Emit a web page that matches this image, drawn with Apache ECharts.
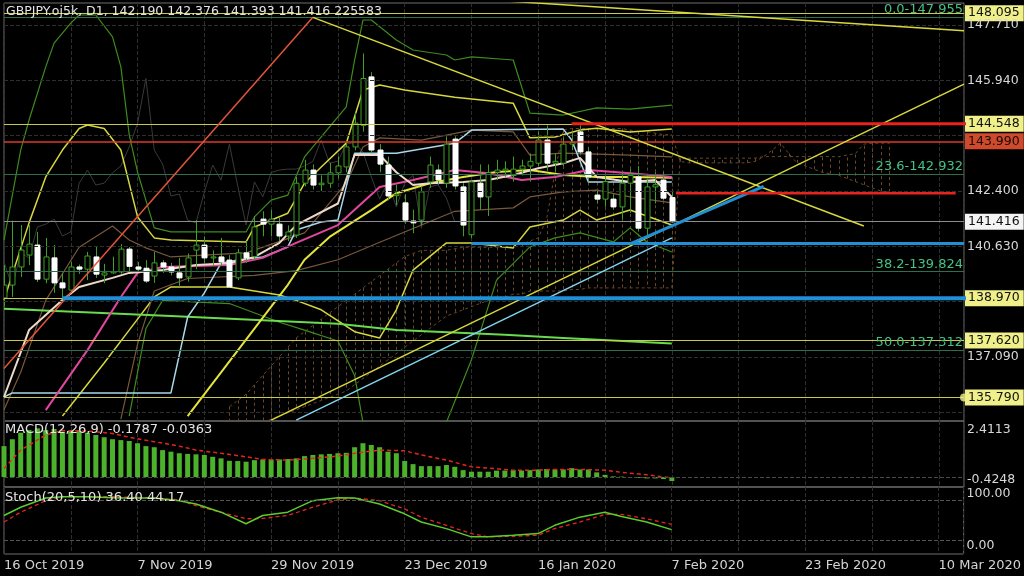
<!DOCTYPE html>
<html><head><meta charset="utf-8">
<script src="https://cdn.jsdelivr.net/npm/echarts@6/dist/echarts.min.js"></script>
<style>html,body{margin:0;padding:0;background:#000}#c{width:1024px;height:576px}</style>
</head><body><div id="c"></div>
<script>
// ---------------- DATA ----------------
const symbol = 'GBPJPY.oj5k', timeframe = 'D1';
const lastOHLC = [142.190, 142.376, 141.393, 141.416];
const lastVolume = 225583;

const tickIdx = [0, 16, 32, 48, 64, 80, 96, 112];
const tickDates = ['16 Oct 2019','7 Nov 2019','29 Nov 2019','23 Dec 2019','16 Jan 2020','7 Feb 2020','23 Feb 2020','10 Mar 2020'];

// open, close, low, high
const candles = [
[138.98,139.39,138.70,140.03],[139.39,139.97,139.01,141.45],[139.97,140.51,139.65,141.31],[140.35,140.70,140.03,141.31],
[140.67,139.58,139.49,141.09],[139.58,140.29,139.45,140.90],[140.26,139.46,139.14,140.67],[139.46,139.30,138.98,139.78],
[139.23,139.97,139.14,140.13],[139.97,139.90,139.75,140.05],[139.90,140.32,139.55,140.45],[140.29,139.74,139.62,140.61],
[139.71,139.78,139.45,140.07],[139.78,139.82,139.75,140.30],[139.81,140.54,139.75,140.70],[140.54,139.99,139.81,140.61],
[139.97,139.90,139.81,140.13],[139.93,139.52,139.46,140.19],[139.68,140.10,139.46,140.45],[140.10,139.97,139.78,140.19],
[139.97,139.81,139.70,140.10],[139.78,139.62,139.33,140.26],[139.65,140.26,139.50,140.40],[140.51,140.67,139.90,141.47],
[140.67,140.26,140.10,140.95],[140.26,140.29,140.00,140.50],[140.29,140.13,140.00,140.90],[140.19,139.33,139.30,140.35],
[139.62,140.42,139.55,140.55],[140.42,140.26,140.10,140.80],[140.30,141.25,140.20,141.60],[141.50,141.34,140.95,141.75],
[141.34,141.50,140.95,141.80],[141.34,140.96,140.80,141.55],[140.96,141.09,140.80,141.30],[140.99,142.65,140.90,142.85],
[142.65,143.07,142.55,143.40],[143.07,142.59,142.45,143.25],[142.60,142.65,142.40,142.90],[142.65,142.98,142.50,143.30],
[142.98,143.20,142.80,143.50],[143.17,143.81,143.00,144.03],[143.81,144.57,143.70,144.90],[144.50,146.00,144.30,146.80],
[146.05,143.71,143.60,146.20],[143.71,143.26,143.00,143.90],[143.23,142.24,142.10,143.50],[142.25,142.30,141.95,142.60],
[142.02,141.47,141.35,142.30],[141.44,141.38,141.05,141.80],[141.47,142.37,141.30,142.55],[142.69,143.23,142.50,143.50],
[143.07,142.75,142.60,143.25],[142.65,143.90,142.50,144.15],[144.06,142.56,142.45,144.15],[142.53,141.31,140.95,142.65],
[141.00,142.69,140.90,142.75],[142.65,142.21,141.80,143.25],[142.21,142.99,141.60,143.25],[143.00,143.07,142.75,143.40],
[143.05,143.10,142.85,143.35],[142.90,143.10,142.70,143.50],[143.10,143.20,142.90,143.40],[143.20,143.35,142.70,143.60],
[143.29,144.03,143.20,144.30],[144.03,143.29,143.05,144.50],[143.29,143.35,143.00,143.60],[143.29,143.90,143.20,144.10],
[143.90,143.95,143.70,144.30],[144.29,143.65,143.60,144.50],[143.65,142.85,142.70,143.80],[142.27,142.14,142.00,142.40],
[142.14,142.70,141.90,142.90],[142.14,141.89,141.80,142.30],[141.89,142.65,141.50,143.00],[142.65,142.90,141.70,143.10],
[142.85,141.21,141.10,143.20],[141.21,142.53,140.95,142.80],[142.53,142.60,142.00,143.00],[142.75,142.17,142.10,143.00],
[142.19,141.416,141.393,142.376]
];

// indicator lines: [barIndex, price]
const bbUp3 = [[0,140.83],[2,143.71],[3,144.67],[5,146.37],[6,147.13],[8,147.77],[9,148.03],[11,148.03],[13,147.33],[14,146.37],[15,144.2],[16,143.0],[17,142.11],[18,141.22],[20,141.09],[29,141.09],[30,141.57],[32,142.11],[34,142.27],[36,143.49],[38,144.13],[41,145.09],[42,146.59],[43,147.87],[44,147.87],[47,147.23],[49,146.91],[53,146.75],[54,146.59],[56,146.69],[61,146.59],[63,144.89],[67,144.83],[71,145.06],[75,145.02],[80,145.15]];
const bbUp2 = [[0,138.91],[3,141.38],[5,142.85],[7,143.71],[9,144.40],[10,144.51],[12,144.40],[14,143.71],[16,141.57],[18,140.90],[20,140.83],[29,140.77],[30,141.25],[34,141.69],[36,142.65],[38,143.17],[41,143.93],[43,145.63],[45,145.79],[48,145.63],[54,145.40],[61,145.21],[63,144.10],[66,144.13],[69,144.35],[71,144.41],[75,144.29],[80,144.38]];
const bbUp1 = [[0,135.4],[2,136.6],[5,138.9],[9,140.6],[13,141.28],[15,140.83],[17,140.58],[20,140.29],[29,140.42],[36,141.06],[41,142.65],[43,143.81],[45,144.10],[50,144.03],[56,144.35],[61,144.29],[63,143.55],[67,143.61],[75,143.55],[80,143.49]];
const bbLo1 = [[14,135.1],[16,137.5],[18,139.2],[22,139.6],[30,139.7],[35,139.85],[40,140.2],[44,140.65],[49,141.2],[54,141.75],[61,141.86],[63,142.21],[67,142.37],[71,142.43],[75,142.21],[80,142.02]];
const bbLo2 = [[7,135.2],[12,136.9],[16,138.3],[18,139.01],[20,139.33],[27,139.33],[33,139.07],[35,138.9],[38,138.6],[42,137.9],[45,137.7],[47,138.6],[49,139.87],[53,140.74],[56,140.74],[61,140.58],[63,141.25],[67,141.47],[69,141.79],[71,141.47],[75,141.79],[80,141.31]];
const bbLo3 = [[15,135.2],[17,138.0],[19,138.9],[27,138.8],[33,138.2],[36,137.95],[40,137.6],[42,136.5],[43,135.0],[53,135.0],[56,137.0],[59,139.55],[63,140.61],[66,140.9],[69,141.06],[73,140.77],[75,141.22],[77,140.77],[80,140.45]];
const maSlow = [[22,135.2],[26,136.6],[30,138.0],[34,139.4],[36,140.2],[39,140.93],[44,141.79],[47,142.33],[51,142.65],[55,142.85],[59,143.01],[63,143.07],[67,142.91],[71,142.85],[75,142.85],[80,142.82]];
const maPink = [[5,135.39],[10,137.31],[14,139.01],[16,139.78],[19,139.97],[27,140.03],[31,140.26],[35,140.74],[40,141.31],[45,142.53],[49,142.75],[54,143.07],[58,142.97],[62,142.75],[66,142.85],[70,143.07],[75,142.97],[80,142.85]];
const maCream = [[0,135.81],[3,137.95],[7,138.91],[9,139.33],[13,139.62],[15,139.78],[19,139.87],[23,140.03],[27,140.09],[30,140.29],[33,140.74],[35,141.31],[40,142.0],[42,143.55],[45,143.55],[47,143.0],[49,142.59],[51,142.65],[55,142.69],[58,142.75],[61,142.91],[64,143.13],[67,143.29],[69,143.46],[71,142.85],[75,142.69],[78,142.75],[80,142.21]];
const kijun = [[0,135.81],[1,135.94],[20,135.94],[22,138.37],[24,139.14],[26,140.09],[28,140.19],[31,140.29],[34,140.61],[35,141.15],[38,141.41],[40,141.47],[42,143.61],[47,143.61],[54,143.93],[56,144.35],[67,144.38],[68,144.03],[70,142.69],[80,142.69]];
const ma200 = [[0,138.63],[20,138.40],[40,138.15],[47,137.95],[60,137.80],[67,137.70],[80,137.52]];

// cloud spans, bar 27 .. 106
const cloudStart = 27;
const spanA = [135.5,135.7,135.9,136.2,136.5,136.8,137.1,137.4,137.7,137.9,
138.1,138.3,138.5,138.7,138.9,139.1,139.3,139.5,139.7,139.9,
140.1,140.3,140.4,140.5,140.5,140.5,140.5,140.55,140.6,140.6,
140.6,140.6,140.6,140.6,140.65,140.7,140.8,140.9,141.5,143.0,
144.35,144.4,144.4,144.4,144.4,144.4,144.4,144.4,144.35,144.3,
144.3,144.25,144.2,144.2,143.35,143.3,143.3,143.3,143.3,143.3,
143.3,143.3,143.3,143.35,143.5,143.7,143.93,143.6,143.3,143.2,
143.1,143.0,142.95,142.9,142.8,142.7,142.6,142.5,142.4,142.37];
const spanB = [134.6,134.7,134.8,134.9,135.0,135.1,135.2,135.3,135.4,135.5,
135.6,135.7,135.8,135.9,136.0,136.2,136.4,136.6,136.8,137.0,
137.2,137.4,137.6,137.8,138.0,138.2,138.4,138.5,138.6,138.7,
138.8,138.9,139.0,139.0,139.1,139.1,139.2,139.2,139.2,139.2,
139.2,139.25,139.25,139.3,139.3,139.3,139.3,139.3,139.3,139.3,
139.3,139.3,139.3,139.3,143.45,143.45,143.45,143.45,143.45,143.45,
143.45,143.45,143.45,143.45,143.5,143.5,143.5,143.5,143.5,143.5,
143.5,143.5,143.5,143.5,143.55,143.6,143.9,143.93,143.93,143.93];

// drawn objects: [barIndex, price]
const redDiag = [[0,136.72],[37,147.955]];
const yellowDown = [[37,147.955],[103,141.28]];
const yellowUp = [[32,135.07],[115,145.82]];
const yellowTop = [[60,148.48],[115,147.53]];
const cyanUp = [[35,135.07],[80,140.90]];
const blueUp = [[75,140.71],[91,142.55]];
const redHigh = [[68,144.548],[116.3,144.548]];
const redMid = [[80.5,142.33],[114,142.33]];
const blueMid = [[56,140.72],[115,140.72]];
const blueLow = [[7,138.97],[116.3,138.97]];

// horizontal levels
const gridPrices = [147.71,145.94,144.17,142.40,140.63,138.86,137.09,135.32];
const priceTicks = [147.710,145.940,142.400,140.630,137.090];
const yellowLevels = [148.095,144.548,138.970,137.620,135.790];
const redLevel = 143.990;
const lastPrice = 141.416;
const fibPct = ['0.0','23.6','38.2','50.0'];
const fibPrices = [147.955,142.932,139.824,137.312];

// MACD
const macdHist = [1.39,1.70,1.99,2.11,2.19,2.11,2.16,2.04,2.08,2.07,
1.99,1.89,1.79,1.70,1.66,1.62,1.52,1.39,1.34,1.21,
1.14,1.07,1.04,1.02,0.99,0.91,0.84,0.73,0.72,0.69,
0.76,0.79,0.79,0.79,0.81,0.84,0.94,0.99,1.02,1.04,
1.07,1.09,1.34,1.52,1.44,1.34,1.14,1.07,0.72,0.58,
0.49,0.49,0.49,0.54,0.46,0.31,0.24,0.24,0.24,0.29,
0.29,0.31,0.29,0.31,0.34,0.36,0.34,0.34,0.40,0.34,
0.34,0.21,0.10,0.03,0.02,-0.01,-0.04,-0.06,-0.06,-0.09,-0.1787];
const macdSignal = [[0,0.39],[2,1.21],[5,1.89],[7,2.09],[10,2.07],[13,1.96],[15,1.79],[18,1.59],[21,1.39],[23,1.21],[26,1.07],[29,0.91],[31,0.79],[34,0.76],[37,0.84],[40,0.94],[42,1.07],[45,1.21],[48,1.18],[50,0.99],[53,0.76],[56,0.46],[58,0.40],[61,0.31],[64,0.31],[66,0.34],[69,0.34],[72,0.31],[74,0.21],[77,0.10],[80,-0.0363]];
const macdParams = '12,26,9', macdLast = [-0.1787, -0.0363], macdScale = [2.4113, -0.4248];

// Stochastic
const stochMain = [[0,57.5],[2,69.8],[5,83.6],[7,85.5],[10,85.5],[13,84.1],[15,83.6],[18,83.6],[21,79.6],[23,74.7],[26,62.4],[29,45.2],[31,57.5],[34,62.4],[37,79.6],[40,84.1],[42,83.6],[45,74.7],[48,60],[50,47.7],[53,37.9],[56,25.6],[58,25.6],[61,28],[64,30.5],[66,42.8],[69,55],[72,62.4],[74,56],[77,47.7],[80,36.40]];
const stochSignal = [[0,47.7],[2,62.4],[5,79.6],[7,85.5],[13,85.5],[18,83.6],[21,80.6],[23,72.2],[26,62.4],[29,52.6],[31,53.1],[34,57.5],[37,69.8],[40,80.6],[42,83.6],[45,79.6],[48,67.3],[50,55],[53,42.8],[56,30.5],[58,25.6],[61,26.5],[64,28],[66,37.9],[69,47.7],[72,59],[74,59],[77,52.6],[80,44.17]];
const stochParams = '20,5,10', stochLevels = [80, 20], stochScale = ['100.00','0.00'];

// ---------------- CHART ----------------
const FONT = 'DejaVu Sans';
const P_MIN = 135.042, P_MAX = 148.414;
const GREEN = '#3fa024';
const HIDDEN = {color: 'rgba(0,0,0,0)', width: 1, type: 'solid'};
const chart = echarts.init(document.getElementById('c'));

function candleItem(params, api) {
  const i = api.value(0), o = api.value(1), c = api.value(2), l = api.value(3), h = api.value(4);
  const pO = api.coord([i, o]), pC = api.coord([i, c]), pL = api.coord([i, l]), pH = api.coord([i, h]);
  const x = Math.round(pO[0]) + 0.5;
  const bull = c >= o;
  const top = Math.min(pO[1], pC[1]);
  const hgt = Math.max(1, Math.abs(pO[1] - pC[1]));
  return {type: 'group', children: [
    {type: 'line', shape: {x1: x, y1: pH[1], x2: x, y2: pL[1]}, style: {stroke: GREEN, lineWidth: 1}},
    {type: 'rect', shape: {x: x - 2.5, y: top, width: 5, height: hgt},
     style: {fill: bull ? '#000' : '#fff', stroke: bull ? GREEN : '#fff', lineWidth: 1}}
  ]};
}
function hatchItem(params, api) {
  const i = api.value(0);
  const a = Math.max(api.value(1), P_MIN), b = Math.max(api.value(2), P_MIN);
  const p1 = api.coord([i, a]), p2 = api.coord([i, b]);
  const x = Math.round(p1[0]) + 0.5;
  return {type: 'line', shape: {x1: x, y1: p1[1], x2: x, y2: p2[1]},
          style: {stroke: '#6b4828', lineWidth: 1, lineDash: [3, 3]}};
}
function line(data, color, width, opts) {
  return Object.assign({type: 'line', data, xAxisIndex: 0, yAxisIndex: 0, symbol: 'none', silent: true,
    animation: false, z: 3, lineStyle: {color, width}}, opts || {});
}

const cloudData = spanA.map((a, k) => [cloudStart + k, a, spanB[k]]);
const spanALine = spanA.map((a, k) => [cloudStart + k, a]);
const spanBLine = spanB.map((b, k) => [cloudStart + k, b]);
const chikou = candles.slice(26).map((d, i) => [i, d[1]]);

const plainLabel = (txt, off) => ({show: true, position: 'end', distance: 3, formatter: txt, color: '#d8d8d8',
  fontSize: 12.5, fontFamily: FONT, offset: off || [0, 0]});
const boxLabel = (txt, bg, fg) => ({show: true, position: 'end', distance: 1, formatter: txt, color: fg, backgroundColor: bg,
  padding: [2, 4, 1, 3], fontSize: 12.5, fontFamily: FONT});

const mainMarks = [];
yellowLevels.forEach(v => mainMarks.push({yAxis: v, lineStyle: {color: '#c9c94a', width: 1, type: 'solid'},
  label: boxLabel(v.toFixed(3), '#f0f08a', '#111')}));
fibPrices.forEach((v, k) => mainMarks.push({yAxis: v, lineStyle: {color: '#2f6e4c', width: 1, type: 'solid'},
  label: {show: true, position: 'insideEndTop', distance: 1, formatter: fibPct[k] + '-' + v.toFixed(3),
          color: '#45c086', fontSize: 13, fontFamily: FONT}}));
mainMarks.push({yAxis: redLevel, lineStyle: {color: '#dd3a26', width: 1.5, type: 'solid'},
  label: boxLabel(redLevel.toFixed(3), '#cf4a2c', '#1a0a05')});
mainMarks.push({yAxis: lastPrice, lineStyle: {color: '#8c8c8c', width: 1, type: 'solid'},
  label: boxLabel(lastPrice.toFixed(3), '#f4f4f4', '#111')});
const tickMarks = priceTicks.map(v => ({yAxis: v, lineStyle: HIDDEN, label: plainLabel(v.toFixed(3))}));

const option = {
  backgroundColor: '#000',
  animation: false,
  textStyle: {fontFamily: FONT},
  title: [
    {text: symbol + ', ' + timeframe + ', ' + lastOHLC.map(v => v.toFixed(3)).join(' ') + ' ' + lastVolume,
     left: 6, top: 5, padding: 0, textStyle: {color: '#e4e4e4', fontSize: 12.5, fontWeight: 'normal', fontFamily: FONT}},
    {text: 'MACD(' + macdParams + ') ' + macdLast.map(v => v.toFixed(4)).join(' '),
     left: 5, top: 423, padding: 0, textStyle: {color: '#e4e4e4', fontSize: 13, fontWeight: 'normal', fontFamily: FONT}},
    {text: 'Stoch(' + stochParams + ') ' + stochMain[stochMain.length - 1][1].toFixed(2) + ' ' + stochSignal[stochSignal.length - 1][1].toFixed(2),
     left: 5, top: 491, padding: 0, textStyle: {color: '#e4e4e4', fontSize: 13, fontWeight: 'normal', fontFamily: FONT}}
  ],
  grid: [
    {left: 4, right: 60, top: 3, height: 418, show: true, borderColor: '#6e6e6e', borderWidth: 1},
    {left: 4, right: 60, top: 421, height: 66, show: true, borderColor: '#6e6e6e', borderWidth: 1},
    {left: 4, right: 60, top: 487, height: 67, show: true, borderColor: '#6e6e6e', borderWidth: 1}
  ],
  xAxis: [0, 1, 2].map(g => ({
    type: 'value', gridIndex: g, min: 0, max: 115, interval: 8,
    axisLine: {show: false}, axisTick: {show: false},
    splitLine: {show: true, lineStyle: {color: '#2e2e2e', type: 'dashed', width: 1}},
    axisLabel: g === 2 ? {show: true, color: '#d4d4d4', fontSize: 13, fontFamily: FONT, align: 'left', margin: 5,
      showMaxLabel: false,
      formatter: v => { const k = tickIdx.indexOf(v); return k >= 0 ? tickDates[k] : ''; }} : {show: false}
  })),
  yAxis: [
    {type: 'value', gridIndex: 0, min: P_MIN, max: P_MAX, show: false},
    {type: 'value', gridIndex: 1, min: -0.4473, max: 2.519, show: false},
    {type: 'value', gridIndex: 2, min: 0, max: 100, show: false}
  ],
  series: [
    // horizontal dashed grid
    {type: 'line', data: [], xAxisIndex: 0, yAxisIndex: 0, z: 0, silent: true,
     markLine: {symbol: 'none', silent: true, animation: false, label: {show: false},
       data: gridPrices.map(v => ({yAxis: v})), lineStyle: {color: '#2e2e2e', type: 'dashed', width: 1}}},
    // cloud
    {type: 'custom', xAxisIndex: 0, yAxisIndex: 0, data: cloudData, renderItem: hatchItem, clip: true, z: 1, silent: true,
     encode: {x: 0, y: [1, 2]}},
    line(spanALine, '#6b4828', 1, {z: 1, lineStyle: {color: '#6b4828', width: 1, type: [3, 3]}}),
    line(spanBLine, '#6b4828', 1, {z: 1, lineStyle: {color: '#6b4828', width: 1, type: [3, 3]}}),
    // indicators
    line(chikou, '#3a3a3a', 1),
    line(bbUp3, '#3e8c1e', 1.2), line(bbLo3, '#3e8c1e', 1.2),
    line(bbUp2, '#d6d63e', 1.5), line(bbLo2, '#d6d63e', 1.5),
    line(bbUp1, '#7a583a', 1.2), line(bbLo1, '#7a583a', 1.2),
    line(ma200, '#68dc4e', 2),
    line(kijun, '#a8d8ea', 1.5),
    line(maSlow, '#e4e43c', 2),
    line(maPink, '#e2479f', 2),
    line(maCream, '#eed8c8', 2),
    // candles
    {type: 'custom', xAxisIndex: 0, yAxisIndex: 0, data: candles.map((d, i) => [i, d[0], d[1], d[2], d[3]]),
     renderItem: candleItem, clip: true, z: 4, silent: true, encode: {x: 0, y: [1, 2, 3, 4]}},
    // drawn objects
    line(redDiag, '#e2553a', 1.5, {z: 5}),
    line(yellowDown, '#d8d83c', 1.5, {z: 5}),
    line(yellowUp, '#d8d83c', 1.5, {z: 5}),
    line(yellowTop, '#d8d83c', 1.5, {z: 5}),
    line(cyanUp, '#82d4ef', 1.5, {z: 5}),
    line(blueUp, '#1f8fd6', 3, {z: 5}),
    line(redMid, '#e8221c', 2.5, {z: 5}),
    line(blueMid, '#1f8fd6', 3, {z: 5}),
    line(redHigh, '#e8221c', 3, {z: 5, clip: false}),
    line(blueLow, '#1f8fd6', 4, {z: 5, clip: false}),
    // levels with labels
    {type: 'line', data: [], xAxisIndex: 0, yAxisIndex: 0, z: 8, silent: true,
     markLine: {symbol: 'none', silent: true, animation: false, data: mainMarks}},
    {type: 'line', data: [], xAxisIndex: 0, yAxisIndex: 0, z: 8, silent: true,
     markLine: {symbol: 'none', silent: true, animation: false, data: tickMarks}},
    {type: 'scatter', xAxisIndex: 0, yAxisIndex: 0, data: [[115, yellowLevels[4]]], symbolSize: 8, clip: false, z: 9,
     silent: true, itemStyle: {color: '#f0f08a'}},
    // MACD
    {type: 'bar', xAxisIndex: 1, yAxisIndex: 1, data: macdHist.map((v, i) => [i, v]), barWidth: 5,
     itemStyle: {color: '#4cb22b'}, silent: true, z: 3,
     markLine: {symbol: 'none', silent: true, animation: false, data: [
       {yAxis: 0, lineStyle: {color: '#4a4a4a', type: 'dashed', width: 1}, label: {show: false}},
       {yAxis: macdScale[0], lineStyle: HIDDEN, label: plainLabel(macdScale[0].toFixed(4), [0, 6])},
       {yAxis: macdScale[1], lineStyle: HIDDEN, label: plainLabel(macdScale[1].toFixed(4), [0, -7])}
     ]}},
    {type: 'line', xAxisIndex: 1, yAxisIndex: 1, data: macdSignal, symbol: 'none', silent: true, z: 4,
     lineStyle: {color: '#e5261e', width: 1.5, type: [4, 3]}},
    // Stochastic
    {type: 'line', xAxisIndex: 2, yAxisIndex: 2, data: stochSignal, symbol: 'none', silent: true, z: 3,
     lineStyle: {color: '#e5261e', width: 1.3, type: [4, 3]},
     markLine: {symbol: 'none', silent: true, animation: false, data: [
       ...stochLevels.map(v => ({yAxis: v, lineStyle: {color: '#555', type: 'dashed', width: 1}, label: {show: false}})),
       {yAxis: 100, lineStyle: HIDDEN, label: plainLabel(stochScale[0], [0, 7])},
       {yAxis: 0, lineStyle: HIDDEN, label: plainLabel(stochScale[1], [0, -8])}
     ]}},
    {type: 'line', xAxisIndex: 2, yAxisIndex: 2, data: stochMain, symbol: 'none', silent: true, z: 4,
     lineStyle: {color: '#5ccc2c', width: 1.5}}
  ]
};
chart.setOption(option);
</script>
</body></html>
